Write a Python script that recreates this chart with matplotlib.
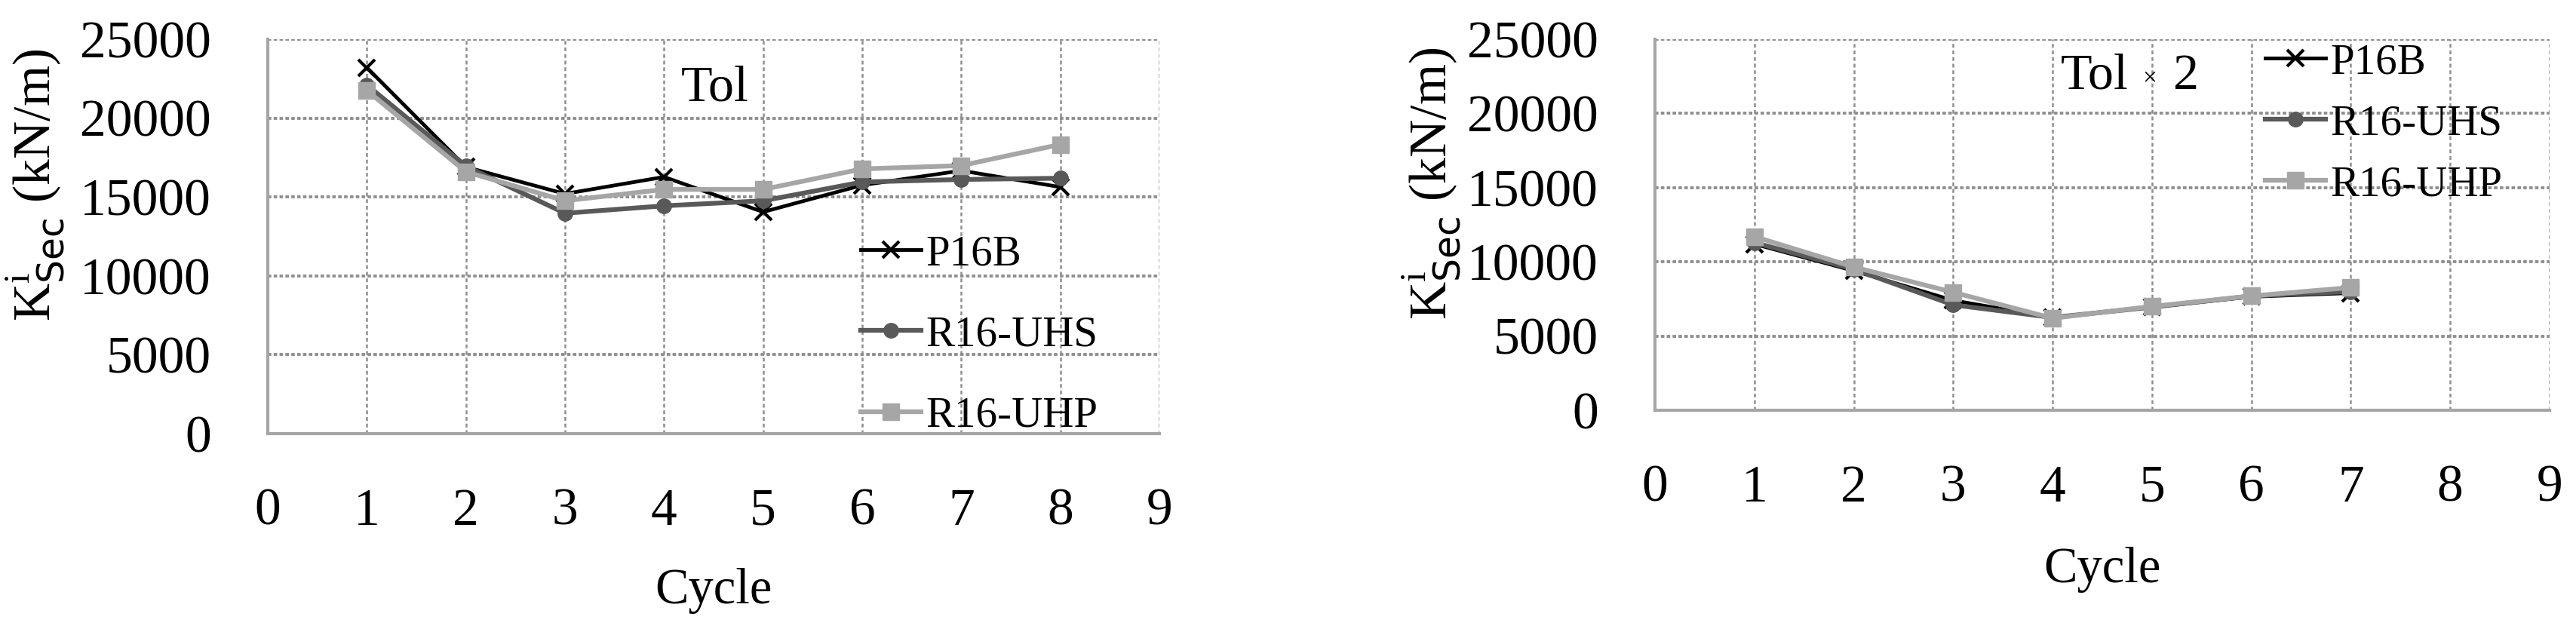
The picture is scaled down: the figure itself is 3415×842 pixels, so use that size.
import matplotlib
matplotlib.use("Agg")
import matplotlib.pyplot as plt

plt.rcParams['font.family'] = ['Liberation Serif', 'DejaVu Serif']
plt.rcParams['mathtext.fontset'] = 'custom'
plt.rcParams['mathtext.rm'] = 'Liberation Serif'
plt.rcParams['mathtext.sf'] = 'DejaVu Sans'

# data
cycles_tol = [1, 2, 3, 4, 5, 6, 7, 8]
p16b_tol = [23200, 16900, 15200, 16270, 14050, 15750, 16670, 15630]
uhs_tol = [22100, 16950, 13970, 14440, 14760, 15950, 16110, 16190]
uhp_tol = [21750, 16600, 14760, 15480, 15480, 16780, 16990, 18330]

cycles_tol2 = [1, 2, 3, 4, 5, 6, 7]
p16b_tol2 = [11200, 9400, 7400, 6250, 6950, 7650, 7900]
uhs_tol2 = [11300, 9500, 7100, 6250, 6950, 7700, 8000]
uhp_tol2 = [11700, 9650, 7950, 6200, 7000, 7700, 8270]

series_names = ['P16B', 'R16-UHS', 'R16-UHP']
x_ticks = list(range(0, 10))
y_ticks = [0, 5000, 10000, 15000, 20000, 25000]

W, H = 3416, 842
fig = plt.figure(figsize=(W / 100, H / 100), dpi=100)


def frac(x0, y0, x1, y1):
    # pixel box -> figure fraction rect
    return [x0 / W, 1 - y1 / H, (x1 - x0) / W, (y1 - y0) / H]


ax1 = fig.add_axes(frac(355, 52, 1537, 575))
ax2 = fig.add_axes(frac(2194, 52, 3380, 544))


def style(ax):
    ax.set_xlim(0, 9)
    ax.set_ylim(0, 25000)
    ax.set_xticks(x_ticks)
    ax.set_yticks(y_ticks)
    ax.tick_params(length=0, labelsize=50)
    ax.tick_params(axis='x', pad=52)
    ax.tick_params(axis='y', pad=54)
    for s in ['top', 'right']:
        ax.spines[s].set_visible(False)
    for s in ['left', 'bottom']:
        ax.spines[s].set_color('#a6a6a6')
        ax.spines[s].set_linewidth(3)
    ax.grid(axis='y', color='#8f8f8f', linestyle=(0, (1.2, 0.8)), linewidth=2.8)
    ax.grid(axis='x', color='#8f8f8f', linestyle=(0, (2, 1.5)), linewidth=1.8)
    ax.set_axisbelow(True)
    ax.set_xlabel('Cycle', fontsize=48, va='center')
    ax.set_ylabel(r'K$^{\mathrm{i}}_{\mathsf{Sec}}$ (kN/m)', fontsize=50, va='center')


def draw(ax, x, a, b, c):
    ax.plot(x, a, color='black', lw=3.5, marker='x', ms=16, mew=3, label=series_names[0])
    ax.plot(x, b, color='#595959', lw=4.5, marker='o', ms=14, label=series_names[1])
    ax.plot(x, c, color='#a6a6a6', lw=4.5, marker='s', ms=16, label=series_names[2])


style(ax1)
style(ax2)
draw(ax1, cycles_tol, p16b_tol, uhs_tol, uhp_tol)
draw(ax2, cycles_tol2, p16b_tol2, uhs_tol2, uhp_tol2)

ax1.xaxis.set_label_coords(0.5, -0.398)
ax1.yaxis.set_label_coords(-0.261, 0.631)
ax2.xaxis.set_label_coords(0.5, -0.429)
ax2.yaxis.set_label_coords(-0.250, 0.61)

ax1.text(4.17, 21090, 'Tol', fontsize=49, va='baseline')
ax2.text(4.08, 21660, 'Tol', fontsize=49, va='baseline')
ax2.text(4.98, 22330, '×', fontsize=24, va='center', ha='center')
ax2.text(5.21, 21660, '2', fontsize=49, va='baseline')

ax1.legend(loc='upper left', bbox_to_anchor=(1141 / W, 1 - 311 / H), bbox_transform=fig.transFigure,
           frameon=False, fontsize=41, handlelength=1.4, handletextpad=0.12,
           labelspacing=0.97, borderpad=0, borderaxespad=0)
ax2.legend(loc='upper left', bbox_to_anchor=(3003 / W, 1 - 57 / H), bbox_transform=fig.transFigure,
           frameon=False, fontsize=41, handlelength=1.4, handletextpad=0.12,
           labelspacing=0.51, borderpad=0, borderaxespad=0)

fig.savefig('out.png', dpi=100)
